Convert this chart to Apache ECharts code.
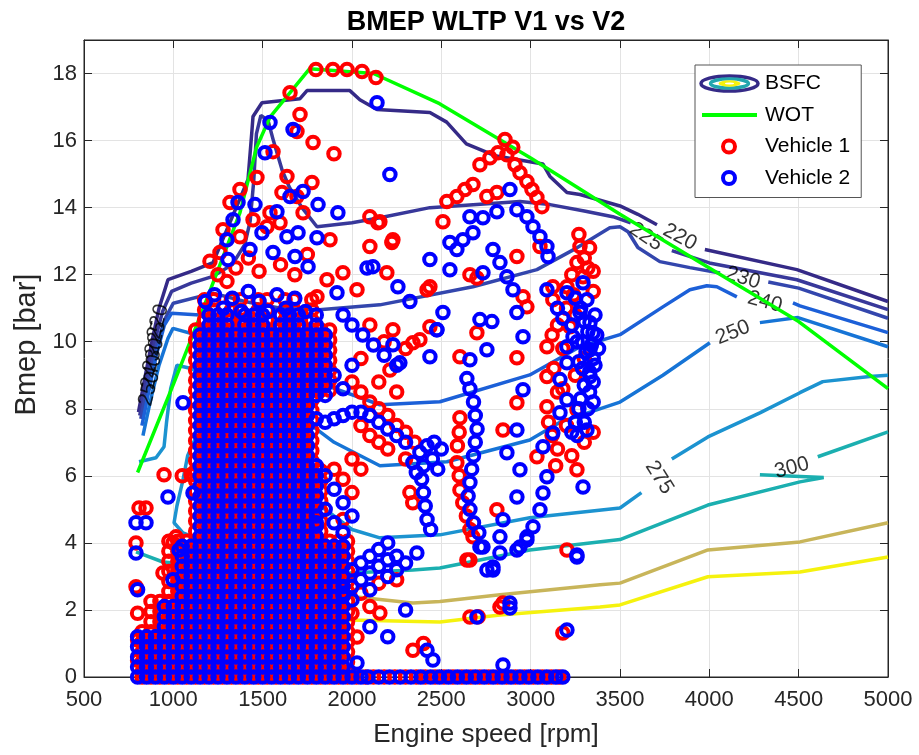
<!DOCTYPE html>
<html>
<head>
<meta charset="utf-8">
<title>BMEP WLTP V1 vs V2</title>
<script src="https://cdn.jsdelivr.net/npm/echarts@6.0.0/dist/echarts.min.js"></script>
<style>
  html, body { margin: 0; padding: 0; background: #fff; }
  #chart { width: 919px; height: 755px; }
</style>
</head>
<body>
<div id="chart"></div>
<script>
// ---------------- data (rpm, bar) ----------------

// full load curve
var wotRpm  = [800, 1000, 1168, 1373, 1466, 1541, 1762, 2120, 2490, 3000, 3500, 4000, 4500, 5000];
var wotBmep = [6.1, 8.73, 11.0, 13.85, 15.8, 16.7, 18.14, 18.0, 17.1, 15.48, 13.8, 12.2, 10.6, 8.6];

// BSFC iso-lines, one list of pieces per level
var bsfc220 = [
    [[805,7.9],[840,8.9],[880,10.0],[920,11.0],[970,11.85],[1100,12.1],[1222,12.36],[1418,14.84],[1440,16.3],[1446,16.72],[1496,17.13],[1709,17.25],[1748,17.49],[1988,17.49],[2044,17.22],[2140,16.93],[2436,16.84],[2530,16.55],[2640,15.9],[2800,15.55],[3069,15.3],[3108,14.93],[3203,14.45],[3276,14.39],[3500,14.05],[3600,13.8],[3707,13.49]],
    [[3975,12.75],[4490,12.15],[5000,11.2]]
];
var bsfc225 = [
    [[812,7.8],[850,8.9],[895,10.0],[940,10.9],[990,11.5],[1100,11.75],[1222,11.95],[1330,12.3],[1400,12.9],[1430,13.6],[1450,14.8],[1465,16.2],[1490,16.75],[1530,16.6],[1560,16.0],[1610,15.1],[1650,14.6],[1720,14.0],[1804,13.43],[2000,13.55],[2156,13.7],[2436,14.0],[2940,14.18],[3108,14.09],[3300,13.9],[3460,13.73],[3560,13.55]],
    [[3790,12.72],[4000,12.35],[4490,11.85],[5000,10.96]]
];
var bsfc230 = [
    [[818,7.7],[858,8.8],[905,9.9],[955,10.7],[1000,11.15],[1222,11.45],[1400,11.2],[1600,11.0],[1800,10.95],[2156,11.1],[2677,11.64],[3035,12.15],[3259,12.8],[3443,13.4],[3500,13.43],[3545,13.28],[3600,12.81],[3723,12.39],[3891,12.21],[4060,12.05]],
    [[4330,11.78],[4500,11.6],[5000,10.7]]
];
var bsfc240 = [
    [[824,7.5],[862,8.5],[905,9.6],[950,10.5],[990,10.85],[1149,10.8],[1300,10.3],[1500,9.6],[1800,8.8],[2156,8.12],[2492,8.21],[2995,9.01],[3276,9.85],[3500,10.21],[3740,11.04],[3891,11.55],[3986,11.67],[4042,11.64],[4154,11.34]],
    [[4468,11.16],[4507,11.07],[5000,10.27]]
];
var bsfc250 = [
    [[830,7.2],[870,8.2],[920,9.3],[970,10.1],[998,10.4],[1166,10.15],[1300,9.5],[1600,8.2],[1900,7.0],[2156,6.3],[2531,6.42],[2995,7.07],[3164,7.6],[3500,8.2],[3740,9.0],[4003,9.97]],
    [[4283,10.57],[4496,10.72],[5000,9.85]]
];
var bsfc275 = [
    [[808,6.42],[903,6.54],[948,6.87],[962,7.6],[985,8.6],[1020,9.3],[1100,9.2],[1166,9.0],[1400,7.5],[1700,5.6],[2000,4.4],[2156,4.15],[2492,4.24],[2995,4.75],[3500,5.04],[3620,5.5]],
    [[3790,6.5],[3992,7.16],[4283,7.88],[4507,8.48],[4635,8.81],[4898,8.96],[5000,9.0]],
    [[1127,7.16],[1080,6.6],[1054,5.88],[1020,5.1],[1004,4.6],[1054,4.3],[1127,4.15],[1300,4.0]]
];
var bsfc300 = [
    [[791,3.73],[942,3.43],[1200,3.3],[1600,3.1],[1988,3.1],[2341,3.19],[2492,3.25],[2995,3.79],[3500,4.1],[3992,5.13],[4507,5.82],[4640,5.95],[4283,6.03]],
    [[4607,6.57],[5000,7.31]]
];
var bsfc350 = [
    [[1700,2.7],[2000,2.4],[2341,2.21],[2492,2.25],[2828,2.45],[3388,2.75],[3500,2.8],[3992,3.79],[4507,4.03],[5000,4.6]]
];
var bsfc400 = [
    [[1800,1.85],[1988,1.7],[2492,1.64],[2828,1.85],[3388,2.09],[3500,2.15],[3992,2.99],[4507,3.13],[5000,3.58]]
];

// contour labels
var labelText  = ['220', '225', '230', '240', '250', '275', '300', '220', '225', '230', '240', '250'];
var labelRpm   = [3835, 3645, 4188, 4311, 4132, 3720, 4462, 915, 902, 890, 878, 866];
var labelBmep  = [13.12, 13.13, 11.9, 11.19, 10.27, 5.95, 6.24, 10.6, 10.1, 9.6, 9.1, 8.6];
var labelAngle = [-28, -34, -18, -15, 22, -58, 15, 76, 76, 76, 76, 76];

// vehicle 1, dense operating area: [bmep, rpm list]
var v1ColsA = [825,875,925,975,1025,1075,1125,1175,1225,1275,1325,1375,1425,1475,1525,1575,1625,1675,1725,1775,1825,1875,1925,1975];
var v1ColsB = [875,925,975,1025,1075,1125,1175,1225,1275,1325,1375,1425,1475,1525,1575,1625,1675,1725,1775,1825,1875,1925,1975];
var v1ColsC = [975,1025,1075,1125,1175,1225,1275,1325,1375,1425,1475,1525,1575,1625,1675,1725,1775,1825,1875,1925,1975];
var v1ColsD = [1125,1175,1225,1275,1325,1375,1425,1475,1525,1575,1625,1675,1725,1775,1825];
var v1ColsE = [1125,1175,1225,1275,1325,1375,1425,1475,1525,1575,1625,1675,1725,1775];
var v1ColsF = [1125,1175,1225,1275,1325,1375,1425,1475,1525,1575,1625,1675,1725,1775,1825,1875];
var v1ColsG = [1175,1225,1325,1375,1475,1525,1625,1675,1775];
var v1BlobRows = [
    [0.15,v1ColsA],[0.45,v1ColsA],[0.75,v1ColsA],[1.05,v1ColsA],[1.35,v1ColsA],
    [1.65,v1ColsB],[1.95,v1ColsB],[2.25,v1ColsB],
    [2.55,v1ColsC],[2.85,v1ColsC],[3.15,v1ColsC],[3.45,v1ColsC],[3.75,v1ColsC],[4.05,v1ColsC],
    [4.35,v1ColsD],[4.65,v1ColsD],[4.95,v1ColsD],[5.25,v1ColsD],[5.55,v1ColsD],[5.85,v1ColsD],[6.15,v1ColsD],
    [6.45,v1ColsE],[6.75,v1ColsE],[7.05,v1ColsE],[7.35,v1ColsE],[7.65,v1ColsE],[7.95,v1ColsE],[8.25,v1ColsE],
    [8.55,v1ColsF],[8.85,v1ColsF],[9.15,v1ColsF],[9.45,v1ColsF],[9.75,v1ColsF],[10.05,v1ColsF],[10.35,v1ColsF],
    [10.65,v1ColsG],[10.95,v1ColsG],[11.25,v1ColsG]
];
var v1ZeroRpm = [825,875,925,975,1025,1075,1125,1175,1225,1275,1325,1375,1425,1475,1525,1575,1625,1675,1725,1775,1825,1875,1925,1975,2025,2075,
    2120,2180,2240,2300,2360,2410,2465,2515,2565,2615,2665,2715,2765,2815,2865,2915,2965,3015,3065,3115,3160];
var v1Points = [
    [1653,17.43],[1798,18.12],[1893,18.12],[1972,18.12],[2056,18.06],[2134,17.88],
    [1709,16.78],[1692,16.27],[1782,15.94],[1899,15.61],[1558,15.67],[1468,14.9],[1636,14.93],[1776,14.75],[1608,14.45],[1692,14.33],
    [1726,13.85],[1541,13.85],[1597,13.55],[1877,13.04],[2100,12.84],[2223,12.96],[2145,13.55],[2195,12.06],[2100,13.73],[1949,12.06],
    [2028,11.55],[1860,11.85],[1804,11.34],[2420,11.55],[1373,14.54],[1317,14.15],[1278,13.34],[1261,12.66],[1373,13.13],[1446,13.64],[1524,13.43],
    [1205,12.4],[1250,12.0],[1300,11.8],[1350,12.2],[1420,12.5],[1480,12.1],[1600,12.3],[1680,12.0],[1750,12.6],
    [2716,15.28],[2772,15.49],[2817,15.64],[2867,15.58],[2912,15.28],[2940,15.04],[2979,14.78],[3007,14.54],[3035,14.3],[3063,14.03],
    [2531,14.18],[2587,14.33],[2632,14.54],[2677,14.69],[2755,14.33],[2811,14.45],[2509,13.58],[2229,13.04],[2156,13.58],[2436,11.64],
    [2660,12.0],[2699,11.9],[2923,12.54],[3052,12.84],[2957,11.34],[2979,11.04],[3124,11.64],[3124,11.25],[3276,12.84],[3259,12.36],
    [3293,11.94],[3220,10.45],[2436,10.45],[3203,11.64],[2856,16.03],[2900,15.8],[3330,12.8],[3350,12.1],
    [3270,13.2],[3300,12.5],[3320,12.2],[3230,12.0],[3240,11.4],[3350,11.5],[3100,7.6],[3120,7.2],[3140,6.3],[3230,6.6],[3350,7.3],
    [2100,10.5],[2180,10.0],[2050,9.5],[2150,8.8],[2250,8.5],[2300,9.8],[2229,10.36],[2341,9.97],[2380,10.06],[2212,9.16],[2604,9.55],
    [2699,10.27],[2923,9.52],[3091,9.85],[3091,8.96],[2923,8.18],[2845,7.37],[2604,7.73],[2587,6.39],[2604,5.58],[2811,4.99],[2677,4.18],
    [2643,3.49],[2845,2.21],[3203,3.79],[3259,6.18],[3035,6.57],[3091,8.06],[3259,7.97],[2600,7.3],[2590,6.9],[2600,6.0],[2620,5.2],
    [2640,4.8],[2660,4.4],[3150,10.5],[3200,11.0],[3250,10.8],[3300,9.5],[3250,9.0],[3150,8.5],[3200,7.5],[3300,7.0],[3150,6.8],
    [3120,10.2],[3180,9.8],[3130,9.2],[3180,8.6],
    [2000,8.8],[2050,8.5],[2100,8.2],[2150,8.0],[2200,7.8],[2250,7.5],[2300,7.3],[2050,7.5],[2100,7.2],[2150,7.0],[2200,6.8],[2000,6.5],
    [2050,6.2],[2350,7.0],[2300,6.5],[2324,5.5],[2340,5.2],[1900,6.2],[1950,5.9],[2000,5.5],[1950,4.7],
    [2050,2.5],[2150,2.8],[2250,2.9],[2000,1.9],[2100,2.1],[2660,3.49],[2660,1.79],[2828,2.09],[3180,1.31],[2341,0.8],[2156,1.91],
    [2028,1.19],[1821,1.4],[2706,1.8],[2400,1.0],
    [808,5.04],[847,5.04],[791,4.0],[791,2.69],[942,3.1],[998,4.0],[1015,4.18],[948,6.03],[1099,6.03],[1050,6.0],
    [800,1.9],[800,1.1],[800,0.5]
];

// vehicle 2
var v2ColsA = [800,850,900,950,1000,1050,1100,1150,1200,1250,1300,1350,1400,1450,1500,1550,1600,1650,1700,1750,1800,1850,1900,1950];
var v2ColsB = [950,1000,1050,1100,1150,1200,1250,1300,1350,1400,1450,1500,1550,1600,1650,1700,1750,1800,1850,1900,1950];
var v2ColsC = [1050,1100,1150,1200,1250,1300,1350,1400,1450,1500,1550,1600,1650,1700,1750,1800,1850,1900,1950];
var v2ColsD = [1150,1200,1250,1300,1350,1400,1450,1500,1550,1600,1650,1700,1750,1800];
var v2ColsE = [1150,1200,1250,1300,1350,1400,1450,1500,1550,1600,1650,1700,1750];
var v2ColsF = [1150,1200,1250,1300,1350,1400,1450,1500,1550,1600,1650,1700,1750,1800,1850];
var v2ColsG = [1200,1250,1300,1400,1450,1500,1600,1650,1700,1800];
var v2BlobRows = [
    [0.3,v2ColsA],[0.6,v2ColsA],[0.9,v2ColsA],[1.2,v2ColsA],
    [1.5,v2ColsB],[1.8,v2ColsB],[2.1,v2ColsB],
    [2.4,v2ColsC],[2.7,v2ColsC],[3.0,v2ColsC],[3.3,v2ColsC],[3.6,v2ColsC],[3.9,v2ColsC],
    [4.2,v2ColsD],[4.5,v2ColsD],[4.8,v2ColsD],[5.1,v2ColsD],[5.4,v2ColsD],[5.7,v2ColsD],[6.0,v2ColsD],
    [6.3,v2ColsE],[6.6,v2ColsE],[6.9,v2ColsE],[7.2,v2ColsE],[7.5,v2ColsE],[7.8,v2ColsE],[8.1,v2ColsE],
    [8.4,v2ColsF],[8.7,v2ColsF],[9.0,v2ColsF],[9.3,v2ColsF],[9.6,v2ColsF],[9.9,v2ColsF],[10.2,v2ColsF],
    [10.5,v2ColsG],[10.8,v2ColsG]
];
var v2ZeroRpm = [800,850,900,950,1000,1050,1100,1150,1200,1250,1300,1350,1400,1450,1500,1550,1600,1650,1700,1750,1800,1850,1900,1950,2000,2050,
    2090,2150,2210,2270,2330,2385,2440,2490,2540,2590,2640,2690,2740,2790,2840,2890,2940,2990,3040,3090,3140,3180];
var v2Points = [
    [2140,17.13],[1541,16.54],[1670,16.33],[1513,15.64],[2212,14.99],[1362,14.15],[1457,14.09],[1580,13.88],[1653,14.33],[1726,14.48],
    [1810,14.09],[1921,13.85],[1334,13.64],[1496,13.25],[1636,13.13],[1698,13.25],[1804,13.1],[1300,13.04],[1429,12.75],[1558,12.66],
    [1681,12.54],[1754,12.24],[2117,12.24],[2257,11.64],[1306,12.45],[1916,11.46],[2084,12.2],[2324,11.2],
    [1180,11.2],[1230,11.4],[1280,11.0],[1330,11.3],[1380,10.9],[1420,11.5],[1480,11.2],[1530,10.9],[1580,11.4],[1630,11.0],[1680,11.3],[1740,10.9],
    [2884,14.54],[2660,13.73],[2733,13.7],[2811,13.88],[2923,13.94],[2979,13.73],[3013,13.43],[3052,13.13],[3091,12.84],[3097,12.54],
    [2548,12.96],[2621,13.04],[2677,13.25],[2587,12.75],[2436,12.45],[2548,12.15],[2733,12.06],[2789,12.75],[2828,12.36],[2867,11.94],
    [2901,11.55],[2923,10.87],[2509,10.87],[2475,10.36],[2716,10.66],[2783,10.6],[3091,11.55],[3203,11.46],[3293,11.76],[3315,11.25],
    [3276,10.87],[3332,10.57],[3349,10.27],[3150,11.0],[3180,10.7],[3230,10.5],[3260,10.0],[3340,9.9],[3350,9.5],[3330,9.1],[3300,8.7],
    [3280,8.3],[3320,8.0],[3300,7.6],[3260,7.2],
    [3250,11.3],[3280,11.0],[3300,10.6],[3320,10.3],[3290,10.0],[3310,9.7],[3270,9.4],[3290,9.2],[3330,8.5],[3350,8.2],[3270,8.0],
    [3250,7.6],[3230,7.3],[3360,10.8],[3370,10.2],[3380,9.8],[3360,9.3],[3350,8.8],
    [2660,8.6],[2680,8.2],[2690,7.8],[2700,7.4],[2690,7.0],[2680,6.6],[2670,6.2],[2660,5.8],[2650,5.4],[2660,5.0],[2680,4.6],[2710,4.3],
    [2643,8.9],[2867,6.69],[2940,6.18],[2923,5.37],[2979,4.18],[2940,3.88],[3069,6.87],[3124,7.28],[3164,7.88],[3203,8.27],[3164,8.87],
    [3203,9.37],[3203,9.85],[3237,10.15],[3091,5.97],[3069,5.49],[3052,4.99],[3013,4.48],[2979,4.09],[2923,3.79],[2923,7.37],[2957,8.57],
    [2957,10.15],[3332,8.96],[3332,9.76],[3315,7.37],[3293,5.67],[3259,3.58],[2755,9.76],[2660,9.46],[2436,9.55],[2268,9.37],[2229,9.91],
    [2475,10.36],[2716,3.88],[2755,3.19],[2789,3.28],[2845,4.69],[2828,4.18],[2884,2.21],
    [2341,6.4],[2380,6.7],[2420,6.9],[2460,7.0],[2500,6.8],[2400,6.3],[2450,6.5],[2360,6.1],[2480,6.2],
    [2390,5.9],[2400,5.5],[2410,5.1],[2420,4.7],[2440,4.4],
    [1750,7.8],[1800,7.7],[1850,7.6],[1900,7.7],[1950,7.8],[2000,7.9],[2050,7.9],[2100,7.8],[2150,7.6],[2200,7.4],[2250,7.2],[2300,7.0],
    [1800,6.3],[1850,6.0],[1900,5.6],[1950,5.2],[2000,4.8],[1850,5.0],[1900,4.6],[1950,4.3],[1800,5.4],[1800,4.6],
    [2000,10.5],[2060,10.2],[2120,9.9],[2180,9.6],[1950,10.8],[2250,9.3],[1900,9.0],[1950,8.6],[2000,9.3],
    [1950,2.5],[2000,2.7],[2050,2.9],[2100,3.1],[2150,3.3],[2200,3.5],[2250,3.6],[2000,3.2],[2050,3.4],[2100,3.6],[2150,3.8],[2200,4.0],
    [2000,2.3],[2100,2.6],[2200,3.0],[2250,3.2],[2300,3.4],[2363,3.7],
    [2699,1.79],[2884,2.06],[3203,1.4],[3259,3.64],[2420,0.8],[2453,0.51],[2028,0.42],[2733,3.88],[2789,3.19],[2828,3.7],[2845,0.36],
    [2100,1.5],[2200,1.2],[2300,2.0],
    [791,4.6],[847,4.6],[791,3.7],[970,5.37],[1110,5.49],[1054,8.18],[1032,3.79],[998,2.9],[800,2.6]
];

// ---------------- chart ----------------
var FONT = '"Liberation Sans", Arial, Helvetica, sans-serif';
var INK = '#262626';

var contourLevels = [
    {name: '220', pieces: bsfc220, color: '#352a87'},
    {name: '225', pieces: bsfc225, color: '#38389a'},
    {name: '230', pieces: bsfc230, color: '#3346ad'},
    {name: '240', pieces: bsfc240, color: '#1c60d8'},
    {name: '250', pieces: bsfc250, color: '#1674d6'},
    {name: '275', pieces: bsfc275, color: '#1c93d0'},
    {name: '300', pieces: bsfc300, color: '#1bafb0'},
    {name: '350', pieces: bsfc350, color: '#c8b55a'},
    {name: '400', pieces: bsfc400, color: '#f5f20e'}
];

function rowsToPoints(rows, zeroRpm, extra) {
    var out = [], i, j;
    for (i = 0; i < zeroRpm.length; i++) {
        out.push([zeroRpm[i], 0]);
    }
    for (i = 0; i < rows.length; i++) {
        for (j = 0; j < rows[i][1].length; j++) {
            out.push([rows[i][1][j], rows[i][0]]);
        }
    }
    return out.concat(extra);
}

function svgIcon(body) {
    return 'image://data:image/svg+xml;charset=utf-8,' + encodeURIComponent(
        '<svg xmlns="http://www.w3.org/2000/svg" width="61" height="20" viewBox="0 0 61 20">' + body + '</svg>');
}

function plainNumber(v) {
    return String(v);
}

var series = [], i, k;

for (i = 0; i < contourLevels.length; i++) {
    for (k = 0; k < contourLevels[i].pieces.length; k++) {
        series.push({
            type: 'line',
            name: 'BSFC',
            data: contourLevels[i].pieces[k],
            showSymbol: false,
            symbol: 'none',
            silent: true,
            color: contourLevels[i].color,
            lineStyle: {color: contourLevels[i].color, width: 3.5},
            z: 2
        });
    }
}

var labelData = [];
for (i = 0; i < labelText.length; i++) {
    labelData.push({
        value: [labelRpm[i], labelBmep[i]],
        label: {formatter: labelText[i], rotate: labelAngle[i]}
    });
}
series.push({
    type: 'scatter',
    name: 'labels',
    data: labelData,
    symbolSize: 0,
    silent: true,
    label: {show: true, position: 'inside', color: '#000', fontFamily: FONT, fontSize: 21},
    z: 3
});

var wotData = [];
for (i = 0; i < wotRpm.length; i++) {
    wotData.push([wotRpm[i], wotBmep[i]]);
}
series.push({
    type: 'line',
    name: 'WOT',
    data: wotData,
    symbol: 'none',
    silent: true,
    color: '#00ff00',
    lineStyle: {color: '#00ff00', width: 3.5},
    z: 4
});

series.push({
    type: 'scatter',
    name: 'Vehicle 1',
    data: rowsToPoints(v1BlobRows, v1ZeroRpm, v1Points),
    symbol: 'circle',
    symbolSize: 11.5,
    silent: true,
    itemStyle: {color: 'rgba(0,0,0,0)', borderColor: '#ff0000', borderWidth: 4, opacity: 1},
    z: 5
});
series.push({
    type: 'scatter',
    name: 'Vehicle 2',
    data: rowsToPoints(v2BlobRows, v2ZeroRpm, v2Points),
    symbol: 'circle',
    symbolSize: 11.5,
    silent: true,
    itemStyle: {color: 'rgba(0,0,0,0)', borderColor: '#0000ff', borderWidth: 4, opacity: 1},
    z: 6
});

var axisCommon = {
    axisLine: {show: true, onZero: false, lineStyle: {color: INK, width: 1}},
    axisTick: {show: true, inside: true, length: 8, lineStyle: {color: INK}}
};

var option = {
    animation: false,
    backgroundColor: '#fff',
    textStyle: {fontFamily: FONT},
    grid: {left: 84, right: 31, top: 40, bottom: 78, show: true, borderColor: INK, borderWidth: 1},
    graphic: [{
        type: 'text',
        x: 486,
        y: 23,
        style: {text: 'BMEP WLTP V1 vs V2', fill: '#000', font: 'bold 27px ' + FONT, align: 'center', verticalAlign: 'middle'}
    }],
    legend: {
        left: 695,
        top: 65,
        orient: 'vertical',
        padding: [8, 11, 9, 4],
        itemGap: 10.5,
        itemWidth: 61,
        itemHeight: 20,
        backgroundColor: '#fff',
        borderColor: '#555',
        borderWidth: 1,
        borderRadius: 0,
        selectedMode: false,
        textStyle: {fontFamily: FONT, fontSize: 21, color: '#000', lineHeight: 20},
        data: [
            {name: 'BSFC', icon: svgIcon(
                '<ellipse cx="30.5" cy="10" rx="28.5" ry="7.6" fill="none" stroke="#352a87" stroke-width="3.5"/>' +
                '<ellipse cx="30.5" cy="10" rx="19" ry="4.6" fill="none" stroke="#22a6ae" stroke-width="3.4"/>' +
                '<ellipse cx="30.5" cy="10" rx="11" ry="3.2" fill="#f5f20e"/>' +
                '<ellipse cx="30.5" cy="10" rx="4.5" ry="0.9" fill="#ffffff"/>')},
            {name: 'WOT', icon: svgIcon('<line x1="3" y1="10" x2="58" y2="10" stroke="#00ff00" stroke-width="4"/>')},
            {name: 'Vehicle 1', icon: svgIcon('<circle cx="30" cy="10" r="6" fill="none" stroke="#ff0000" stroke-width="4"/>')},
            {name: 'Vehicle 2', icon: svgIcon('<circle cx="30" cy="10" r="6" fill="none" stroke="#0000ff" stroke-width="4"/>')}
        ]
    },
    xAxis: [
        Object.assign({
            type: 'value',
            min: 500,
            max: 5000,
            interval: 500,
            name: 'Engine speed [rpm]',
            nameLocation: 'middle',
            nameGap: 45,
            nameTextStyle: {fontFamily: FONT, fontSize: 26, color: INK},
            axisLabel: {fontFamily: FONT, fontSize: 22, color: INK, margin: 12, formatter: plainNumber},
            splitLine: {show: true, lineStyle: {color: '#e3e3e3', width: 1}}
        }, axisCommon),
        Object.assign({
            type: 'value',
            position: 'top',
            min: 500,
            max: 5000,
            interval: 500,
            axisLabel: {show: false},
            splitLine: {show: false}
        }, axisCommon)
    ],
    yAxis: [
        Object.assign({
            type: 'value',
            min: 0,
            max: 19,
            interval: 2,
            name: 'Bmep [bar]',
            nameLocation: 'middle',
            nameGap: 40,
            nameTextStyle: {fontFamily: FONT, fontSize: 29, color: INK, padding: [0, 0, 0, 28]},
            axisLabel: {fontFamily: FONT, fontSize: 22, color: INK, margin: 7, showMaxLabel: false, formatter: plainNumber},
            splitLine: {show: true, lineStyle: {color: '#e3e3e3', width: 1}}
        }, axisCommon),
        Object.assign({
            type: 'value',
            position: 'right',
            min: 0,
            max: 19,
            interval: 2,
            axisLabel: {show: false},
            splitLine: {show: false}
        }, axisCommon)
    ],
    series: series
};

var myChart = echarts.init(document.getElementById('chart'), null, {renderer: 'canvas'});
myChart.setOption(option);
</script>
</body>
</html>
